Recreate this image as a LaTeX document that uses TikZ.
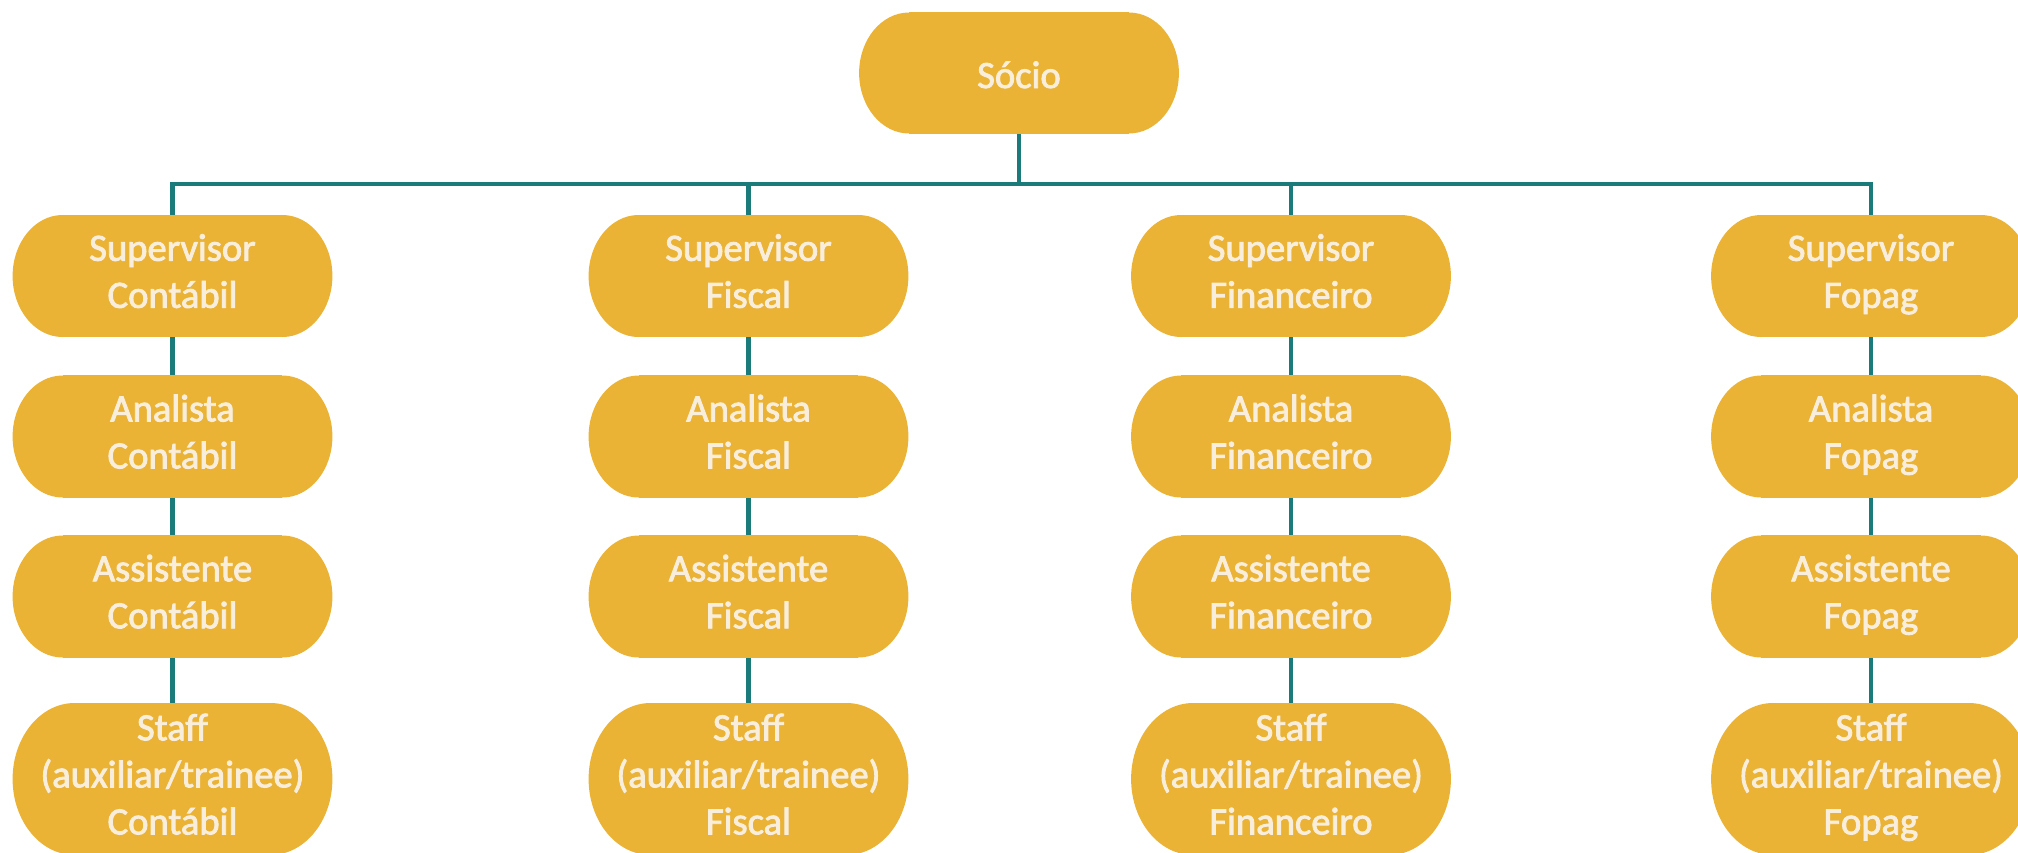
\documentclass[tikz,border=0pt]{standalone}
\usepackage{fontspec}
\setmainfont{Carlito}
\newfontface\semib{Carlito}[FakeBold=2.2]
\usetikzlibrary{backgrounds}
\definecolor{gold}{HTML}{EAB336}
\definecolor{cream}{HTML}{F8EEDB}
\definecolor{tealline}{HTML}{1B7B7B}
\newcommand\boxstrut{\rule[-5pt]{0pt}{25pt}}
\begin{document}
\begin{tikzpicture}[x=0.5pt,y=-0.5pt,
  box/.style={minimum width=159.5pt, minimum height=61pt,
    text=cream, font=\semib\fontsize{19.3}{23.5}\selectfont, align=center, inner sep=0pt,
    execute at begin node=\boxstrut, execute at end node=\boxstrut},
  tallbox/.style={box, minimum height=76pt},
  link/.style={draw=tealline, line width=2.1pt, line join=miter}]
\useasboundingbox (0,0) rectangle (2018,852);
\node[box, minimum height=60.5pt] (socio) at (1019,73) {Sócio};
\coordinate (bus) at (1019,184);
\foreach \c/\x/\d in {1/172.5/Contábil, 2/748.5/Fiscal, 3/1291/Financeiro, 4/1871/Fopag} {
  \node[box] (sup\c) at (\x,276) {Supervisor\\\d};
  \node[box] (ana\c) at (\x,436.5) {Analista\\\d};
  \node[box] (ass\c) at (\x,596.5) {Assistente\\\d};
  \node[tallbox] (stf\c) at (\x,779) {Staff\\(auxiliar/trainee)\\\d};
  \draw[link] (sup\c.south) -- (ana\c.north);
  \draw[link] (ana\c.south) -- (ass\c.north);
  \draw[link] (ass\c.south) -- (stf\c.north);
}
\draw[link] (socio.south) -- (bus);
\draw[link] (sup1.north) -- (sup1.north |- bus) -- (sup4.north |- bus) -- (sup4.north);
\draw[link] (sup2.north) -- (sup2.north |- bus);
\draw[link] (sup3.north) -- (sup3.north |- bus);
\begin{scope}[on background layer]
  \clip (0,0) rectangle (2018,852);
  \fill[white] (0,0) rectangle (2018,852);
  \foreach \n/\rx/\ry in {socio/25/30.25, sup1/25/30.5, sup2/25/30.5, sup3/25/30.5, sup4/25/30.5,
      ana1/25/30.5, ana2/25/30.5, ana3/25/30.5, ana4/25/30.5,
      ass1/25/30.5, ass2/25/30.5, ass3/25/30.5, ass4/25/30.5,
      stf1/31/38, stf2/31/38, stf3/31/38, stf4/31/38} {
    \fill[gold] ([xshift=\rx pt]\n.north west) rectangle ([xshift=-\rx pt]\n.south east);
    \fill[gold] ([xshift=\rx pt]\n.west) ellipse [x radius=\rx pt, y radius=\ry pt];
    \fill[gold] ([xshift=-\rx pt]\n.east) ellipse [x radius=\rx pt, y radius=\ry pt];
  }
\end{scope}
\end{tikzpicture}
\end{document}
